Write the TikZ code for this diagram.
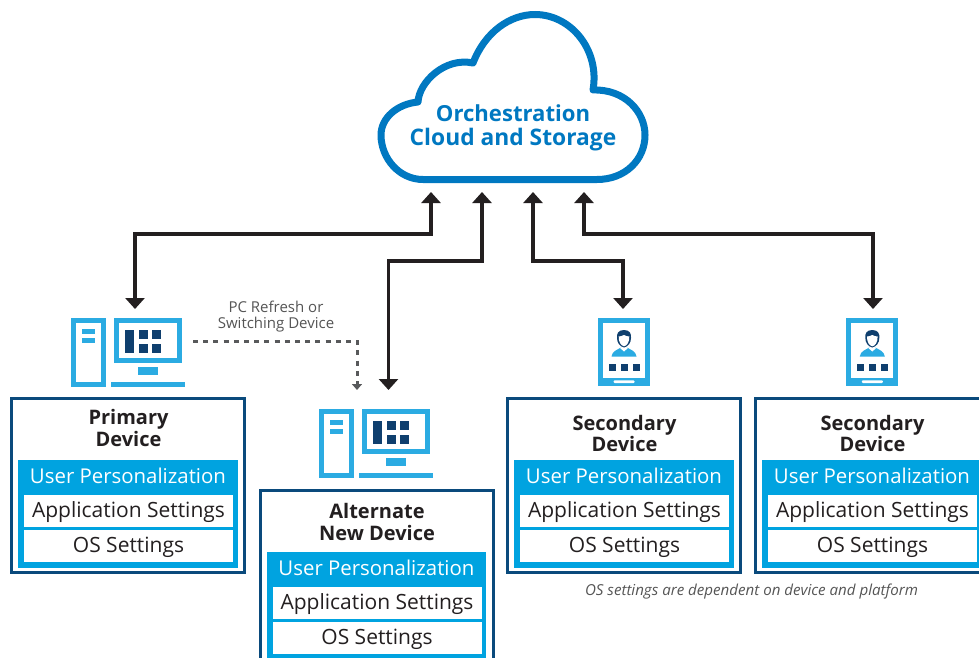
\documentclass[tikz,border=0pt]{standalone}
\usepackage{fontspec}
\setmainfont{Open Sans}
\usetikzlibrary{arrows.meta}
\definecolor{cloudblue}{HTML}{0078C1}
\definecolor{panelblue}{HTML}{00A3E0}
\definecolor{iconblue}{HTML}{2BABE2}
\definecolor{navy}{HTML}{0F3F6E}
\definecolor{boxnavy}{HTML}{0A4A7C}
\definecolor{arrowblack}{HTML}{231F20}
\definecolor{dashgray}{HTML}{58595B}
\definecolor{textgray}{HTML}{555555}
\tikzset{
  x=1pt,y=-1pt,
  outerbox/.style={draw=boxnavy,line width=2.8pt,fill=white,anchor=north west,minimum width=233pt,minimum height=174.6pt,inner sep=0pt,outer sep=0pt},
  panel/.style={fill=panelblue,anchor=north west,minimum width=219.5pt,minimum height=108pt,inner sep=0pt,outer sep=0pt},
  row/.style={fill=white,text=arrowblack,anchor=north west,minimum width=209pt,minimum height=32pt,inner sep=0pt,outer sep=0pt,text height=15pt,text depth=3pt,font=\fontsize{21}{25}\selectfont},
  userlabel/.style={text=white,inner sep=0pt,anchor=base,font=\fontsize{20.4}{25}\selectfont},
  titlelabel/.style={text=arrowblack,inner sep=0pt,align=center,font=\fontsize{20}{21.5}\selectfont\bfseries},
  syncarrow/.style={draw=arrowblack,line width=3.8pt,{Triangle[length=11pt,width=19pt]}-{Triangle[length=11pt,width=19pt]}},
  refresharrow/.style={draw=dashgray,line width=3pt,dash pattern=on 5pt off 5.2pt,-{Triangle[length=6pt,width=10pt]}},
  iconfill/.style={fill=iconblue,draw=none},
  darkfill/.style={fill=navy,draw=none},
  whitefill/.style={fill=white,draw=none},
}
% #1 name, #2 x, #3 y (outer top-left), #4 title, #5 title y offset
\newcommand{\devicebox}[5]{%
  \node[outerbox] (#1box) at (#2+0.7,#3+1.2) {};
  \node[titlelabel] (#1title) at (#2+117.5,#3+31+#5) {#4};
  \node[panel] (#1panel) at (#2+7,#3+63) {};
  \node[userlabel] (#1user) at (#2+117,#3+86.5) {User Personalization};
  \node[row] (#1app) at (#2+13,#3+98) {Application Settings};
  \node[row] (#1os) at (#2+13,#3+133) {OS Settings};
}
% #1 x,#2 y: top-left of the tower
\newcommand{\pcicon}[2]{%
  \begin{scope}[shift={(#1,#2)}]
    \fill[iconfill] (0,0) rectangle (35,69);
    \fill[whitefill] (5,5) rectangle (30,64);
    \fill[iconfill] (11,11) rectangle (24,16);
    \fill[iconfill] (11,20) rectangle (24,25);
    \fill[iconfill] (43,0) rectangle (111,45);
    \fill[whitefill] (48,5) rectangle (106,40);
    \fill[darkfill] (54,12) rectangle (63,35);
    \fill[darkfill] (67.5,12) rectangle (76.5,21);
    \fill[darkfill] (81,12) rectangle (90,21);
    \fill[darkfill] (67.5,25.5) rectangle (76.5,35);
    \fill[darkfill] (81,25.5) rectangle (90,35);
    \fill[iconfill] (67,49) rectangle (87,57);
    \fill[iconfill] (40,64) rectangle (114,69);
  \end{scope}
}
% #1 x,#2 y: top-left of the tablet
\newcommand{\tableticon}[2]{%
  \begin{scope}[shift={(#1,#2)}]
    \fill[iconfill] (0,0) rectangle (52,68);
    \fill[whitefill] (4.5,4.5) rectangle (47,60);
    \fill[whitefill,rounded corners=1pt] (15.5,62.3) rectangle (36.5,65);
    \fill[darkfill] (10.5,46) rectangle (17.5,53);
    \fill[darkfill] (22.5,46) rectangle (29.5,53);
    \fill[darkfill] (34.5,46) rectangle (41.5,53);
    % shoulders
    \fill[iconfill] (13.5,38.5) .. controls (14,33) and (20,31.5) .. (23,29.5) -- (29,29.5) .. controls (32,31.5) and (38,33) .. (38.5,38.5) -- cycle;
    \fill[whitefill] (22,30) -- (26,33.5) -- (30,30) -- (26,28) -- cycle;
    % hair and face
    \fill[darkfill] (26,12) .. controls (20,12) and (18.5,16) .. (19,20) .. controls (19,25) and (22,28.5) .. (26,29.5) .. controls (30,28.5) and (33,25) .. (33,20) .. controls (33.5,16) and (32,12) .. (26,12) -- cycle;
    \fill[whitefill] (26,17) .. controls (24,18) and (22,18.5) .. (20.7,18.5) .. controls (20.5,24) and (23,27.8) .. (26,28.3) .. controls (29,27.8) and (31.5,24) .. (31.3,18.5) .. controls (29.5,18.5) and (28,18) .. (26,17) -- cycle;
  \end{scope}
}
\begin{document}
\begin{tikzpicture}
\useasboundingbox (0,0) rectangle (979,658);
\clip (0,0) rectangle (979,658);
\fill[white] (0,0) rectangle (979,658);

% cloud
\draw[draw=cloudblue,line width=7pt,line join=round,fill=white]
  (423,179.5) .. controls (399,179.5) and (381,158) .. (381,135)
  .. controls (381,118) and (397,104) .. (418,102)
  .. controls (419,82) and (445,57) .. (473,63)
  .. controls (485,32) and (510,14.5) .. (535,14.5)
  .. controls (571,14.5) and (600,50) .. (593,90)
  .. controls (625,89) and (645,112) .. (645,135)
  .. controls (645,160) and (625,179.5) .. (597,179.5) -- cycle;
\node[inner sep=0pt,align=center,text=cloudblue,font=\fontsize{22.8}{24}\selectfont\bfseries] (cloud) at (513,127.5) {{\fontsize{22.1}{24}\selectfont Orchestration}\\Cloud and Storage};

% device boxes
\devicebox{primary}{11}{397}{Primary\\Device}{0}
\devicebox{alternate}{259.5}{489}{Alternate\\New Device}{2}
\devicebox{secondaryA}{507}{397}{Secondary\\Device}{5.5}
\devicebox{secondaryB}{755}{397}{Secondary\\Device}{5.5}

% icons
\pcicon{71}{318}
\pcicon{319}{409}
\tableticon{598}{318}
\tableticon{846.3}{318}

% labels
\node[inner sep=0pt,align=center,text=textgray,font=\fontsize{15}{16}\selectfont] (refreshlabel) at (276,316.5) {PC Refresh or\\Switching Device};
\node[inner sep=0pt,text=textgray,font=\fontsize{15.1}{16}\selectfont\itshape] (note) at (751.5,591.5) {OS settings are dependent on device and platform};

% connector end points
\coordinate (cloudA) at (431,192);
\coordinate (cloudB) at (482,192);
\coordinate (cloudC) at (533,192);
\coordinate (cloudD) at (584,192);
\coordinate (primarytop) at (135,309);
\coordinate (alternatetop) at (388.5,390);
\coordinate (secondaryAtop) at (623,309);
\coordinate (secondaryBtop) at (873,309);
\coordinate (refreshstart) at (193,341);
\coordinate (refreshend) at (357,390);

% connectors
\draw[syncarrow] (cloudA) |- (200,234) -| (primarytop);
\draw[syncarrow] (cloudB) |- (430,261) -| (alternatetop);
\draw[syncarrow] (cloudC) |- (580,261) -| (secondaryAtop);
\draw[syncarrow] (cloudD) |- (700,234) -| (secondaryBtop);
\draw[refresharrow] (refreshstart) -| (refreshend);
\end{tikzpicture}
\end{document}
